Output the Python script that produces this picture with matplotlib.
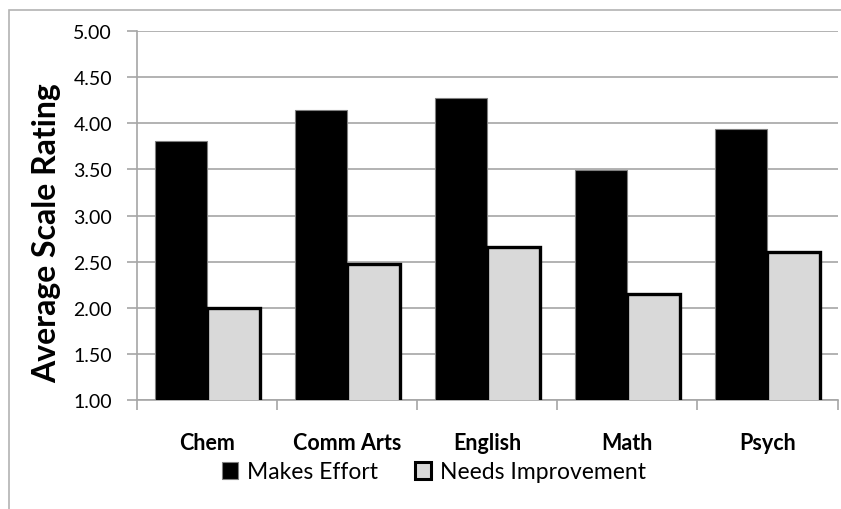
import matplotlib
matplotlib.use("Agg")
import matplotlib.pyplot as plt
import numpy as np
from matplotlib.patches import Patch, Rectangle

plt.rcParams['font.family'] = ['Lato', 'DejaVu Sans']

subjects = ["Chem", "Comm Arts", "English", "Math", "Psych"]
makes_effort = [3.81, 4.14, 4.27, 3.49, 3.94]
needs_improvement = [2.00, 2.47, 2.66, 2.15, 2.60]
series_names = ["Makes Effort", "Needs Improvement"]
y_ticks = [1.00, 1.50, 2.00, 2.50, 3.00, 3.50, 4.00, 4.50, 5.00]

W, H = 841, 510
fig = plt.figure(figsize=(W / 100, H / 100), dpi=100)

# chart-area border (only left and top edges fall inside the canvas)
fig.patches.append(Rectangle((8.5 / W, -0.2), 1.5, (H - 11) / H + 0.2,
                             transform=fig.transFigure, fill=False,
                             edgecolor='#b3b3b3', linewidth=1.2, zorder=0))

ax = fig.add_axes([137 / W, (H - 401) / H, (837.5 - 137) / W, (401 - 32) / H])

x = np.arange(len(subjects))
bw = 0.375
ax.bar(x - bw / 2, makes_effort, width=bw, color='black',
       edgecolor='#7f7f7f', linewidth=0.8, zorder=3)
ax.bar(x + bw / 2, needs_improvement, width=bw, color='#d9d9d9',
       edgecolor='black', linewidth=2.4, zorder=4)

ax.set_ylim(1.0, 5.0)
ax.set_xlim(-0.5, len(subjects) - 0.5)
ax.set_yticks(y_ticks)
ax.set_yticklabels([f"{v:.2f}" for v in y_ticks], fontsize=14)
ax.yaxis.grid(True, color='#a6a6a6', linewidth=1.2, zorder=0)
ax.set_axisbelow(True)

ax.set_xticks(np.arange(len(subjects) + 1) - 0.5)
ax.set_xticklabels([])
ax.set_xticks(x, minor=True)
ax.set_xticklabels(subjects, minor=True, fontsize=15.5, fontweight='bold')
ax.tick_params(axis='x', which='major', length=7, color='#a6a6a6', width=1.2)
ax.tick_params(axis='x', which='minor', length=0, pad=23)
ax.tick_params(axis='y', length=7, color='#a6a6a6', width=1.2, pad=11)

for side in ['top', 'right']:
    ax.spines[side].set_visible(False)
for side in ['left', 'bottom']:
    ax.spines[side].set_color('#a6a6a6')
    ax.spines[side].set_linewidth(1.2)

fig.text(47 / W, 1 - 233 / H, "Average Scale Rating", rotation=90,
         ha='center', va='center', fontsize=23, fontweight='bold')

handles = [Patch(facecolor='black', edgecolor='#7f7f7f', linewidth=0.8),
           Patch(facecolor='#d9d9d9', edgecolor='black', linewidth=2.2)]
fig.legend(handles, series_names, loc='center', ncol=2,
           bbox_to_anchor=(434 / W, 1 - 473 / H), frameon=False,
           fontsize=16.5, handlelength=0.7, handleheight=0.7,
           handletextpad=0.4, columnspacing=1.6)

fig.savefig("out.png", dpi=100)
